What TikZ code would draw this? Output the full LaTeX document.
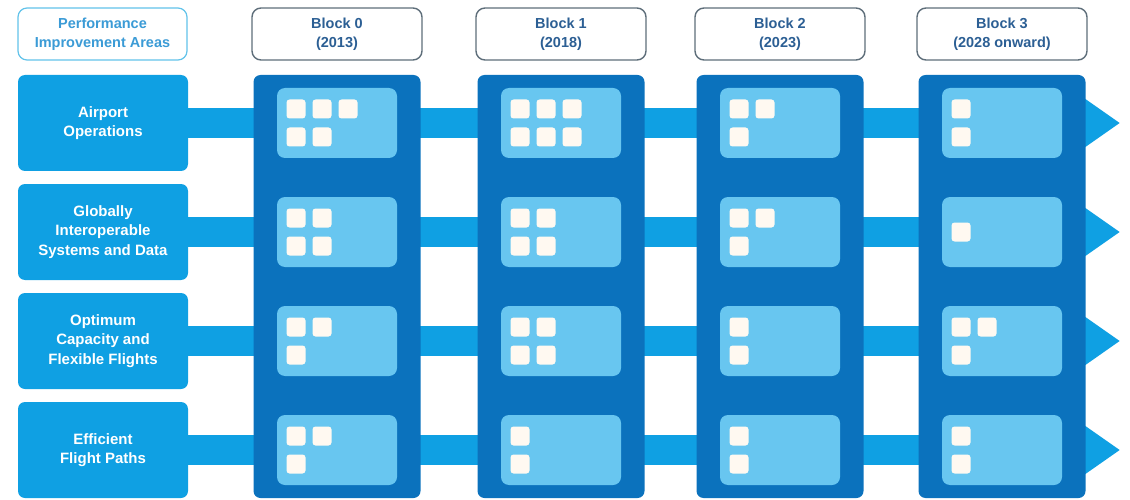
\documentclass[tikz,border=0pt]{standalone}
\usepackage{fontspec}
\setmainfont{Liberation Sans}
\usepackage{tikz}
\usetikzlibrary{arrows.meta, backgrounds}
\usepackage{xcolor}

\definecolor{areablue}{HTML}{0FA0E3}
\definecolor{colblue}{HTML}{0B72BD}
\definecolor{innerblue}{HTML}{68C6F0}
\definecolor{capwhite}{HTML}{FFF9F1}
\definecolor{hdrline}{HTML}{5E6E7A}
\definecolor{hdrtext}{HTML}{2C5F94}
\definecolor{pialine}{HTML}{62C3EA}
\definecolor{piatext}{HTML}{3B9BD6}

\tikzset{
  hdrbox/.style={draw=hdrline, line width=1.4pt, fill=white, rounded corners=9pt, minimum width=170pt, minimum height=52pt, align=center, text=hdrtext, font=\fontsize{14.5}{19}\selectfont\bfseries},
  areabox/.style={fill=areablue, rounded corners=7pt, minimum width=170pt, minimum height=96pt, align=center, text=white, font=\fontsize{15}{19.5}\selectfont\bfseries},
  blockcol/.style={fill=colblue, rounded corners=7pt, minimum width=167pt, minimum height=423pt},
  capbox/.style={fill=innerblue, rounded corners=8pt, minimum width=120pt, minimum height=70pt},
  capsq/.style={fill=capwhite, rounded corners=3pt, minimum size=19pt, inner sep=0pt},
  bar/.style={areablue, line width=30pt}
}

\begin{document}
\begin{tikzpicture}[x=1pt,y=1pt,yscale=-1,xscale=1]
\useasboundingbox (0,0) rectangle (1130,500);

% Header Nodes
\node [hdrbox, draw=pialine, line width=1.2pt, minimum width=169pt, text=piatext] (hdrPIA) at (102.5,34) {Performance\\Improvement Areas};
\node [hdrbox] (hdr0) at (337,34) {Block 0\\(2013)};
\node [hdrbox] (hdr1) at (561,34) {Block 1\\(2018)};
\node [hdrbox] (hdr2) at (780,34) {Block 2\\(2023)};
\node [hdrbox] (hdr3) at (1002,34) {Block 3\\(2028 onward)};

% Performance improvement areas
\node [areabox] (area1) at (103,123) {Airport\\Operations};
\node [areabox] (area2) at (103,232) {Globally\\Interoperable\\Systems and Data};
\node [areabox] (area3) at (103,341) {Optimum\\Capacity and\\Flexible Flights};
\node [areabox] (area4) at (103,450) {Efficient\\Flight Paths};

% Block columns
\node [blockcol] (blk0) at (337,286.5) {};
\node [blockcol] (blk1) at (561,286.5) {};
\node [blockcol] (blk2) at (780,286.5) {};
\node [blockcol] (blk3) at (1002,286.5) {};

% Arrow tips
\coordinate (tip1) at (1120,123);
\coordinate (tip2) at (1120,232);
\coordinate (tip3) at (1120,341);
\coordinate (tip4) at (1120,450);

% Bars behind the columns
\begin{scope}[on background layer]
\draw [bar, -{Triangle[length=35pt,width=46pt]}] (area1.east) -- (tip1);
\draw [bar, -{Triangle[length=35pt,width=46pt]}] (area2.east) -- (tip2);
\draw [bar, -{Triangle[length=35pt,width=46pt]}] (area3.east) -- (tip3);
\draw [bar, -{Triangle[length=35pt,width=46pt]}] (area4.east) -- (tip4);
\end{scope}

% Capability boxes
\node [capbox] (in0-1) at (337,123) {};
\node [capbox] (in0-2) at (337,232) {};
\node [capbox] (in0-3) at (337,341) {};
\node [capbox] (in0-4) at (337,450) {};
\node [capbox] (in1-1) at (561,123) {};
\node [capbox] (in1-2) at (561,232) {};
\node [capbox] (in1-3) at (561,341) {};
\node [capbox] (in1-4) at (561,450) {};
\node [capbox] (in2-1) at (780,123) {};
\node [capbox] (in2-2) at (780,232) {};
\node [capbox] (in2-3) at (780,341) {};
\node [capbox] (in2-4) at (780,450) {};
\node [capbox] (in3-1) at (1002,123) {};
\node [capbox] (in3-2) at (1002,232) {};
\node [capbox] (in3-3) at (1002,341) {};
\node [capbox] (in3-4) at (1002,450) {};

% Block 0 squares
\node [capsq] (q0-1a) at (296,109) {}; \node [capsq] (q0-1b) at (322,109) {}; \node [capsq] (q0-1c) at (348,109) {};
\node [capsq] (q0-1d) at (296,137) {}; \node [capsq] (q0-1e) at (322,137) {};
\node [capsq] (q0-2a) at (296,218) {}; \node [capsq] (q0-2b) at (322,218) {};
\node [capsq] (q0-2c) at (296,246) {}; \node [capsq] (q0-2d) at (322,246) {};
\node [capsq] (q0-3a) at (296,327) {}; \node [capsq] (q0-3b) at (322,327) {};
\node [capsq] (q0-3c) at (296,355) {};
\node [capsq] (q0-4a) at (296,436) {}; \node [capsq] (q0-4b) at (322,436) {};
\node [capsq] (q0-4c) at (296,464) {};

% Block 1 squares
\node [capsq] (q1-1a) at (520,109) {}; \node [capsq] (q1-1b) at (546,109) {}; \node [capsq] (q1-1c) at (572,109) {};
\node [capsq] (q1-1d) at (520,137) {}; \node [capsq] (q1-1e) at (546,137) {}; \node [capsq] (q1-1f) at (572,137) {};
\node [capsq] (q1-2a) at (520,218) {}; \node [capsq] (q1-2b) at (546,218) {};
\node [capsq] (q1-2c) at (520,246) {}; \node [capsq] (q1-2d) at (546,246) {};
\node [capsq] (q1-3a) at (520,327) {}; \node [capsq] (q1-3b) at (546,327) {};
\node [capsq] (q1-3c) at (520,355) {}; \node [capsq] (q1-3d) at (546,355) {};
\node [capsq] (q1-4a) at (520,436) {};
\node [capsq] (q1-4b) at (520,464) {};

% Block 2 squares
\node [capsq] (q2-1a) at (739,109) {}; \node [capsq] (q2-1b) at (765,109) {};
\node [capsq] (q2-1c) at (739,137) {};
\node [capsq] (q2-2a) at (739,218) {}; \node [capsq] (q2-2b) at (765,218) {};
\node [capsq] (q2-2c) at (739,246) {};
\node [capsq] (q2-3a) at (739,327) {};
\node [capsq] (q2-3b) at (739,355) {};
\node [capsq] (q2-4a) at (739,436) {};
\node [capsq] (q2-4b) at (739,464) {};

% Block 3 squares
\node [capsq] (q3-1a) at (961,109) {};
\node [capsq] (q3-1b) at (961,137) {};
\node [capsq] (q3-2a) at (961,232) {};
\node [capsq] (q3-3a) at (961,327) {}; \node [capsq] (q3-3b) at (987,327) {};
\node [capsq] (q3-3c) at (961,355) {};
\node [capsq] (q3-4a) at (961,436) {};
\node [capsq] (q3-4b) at (961,464) {};

\end{tikzpicture}
\end{document}
